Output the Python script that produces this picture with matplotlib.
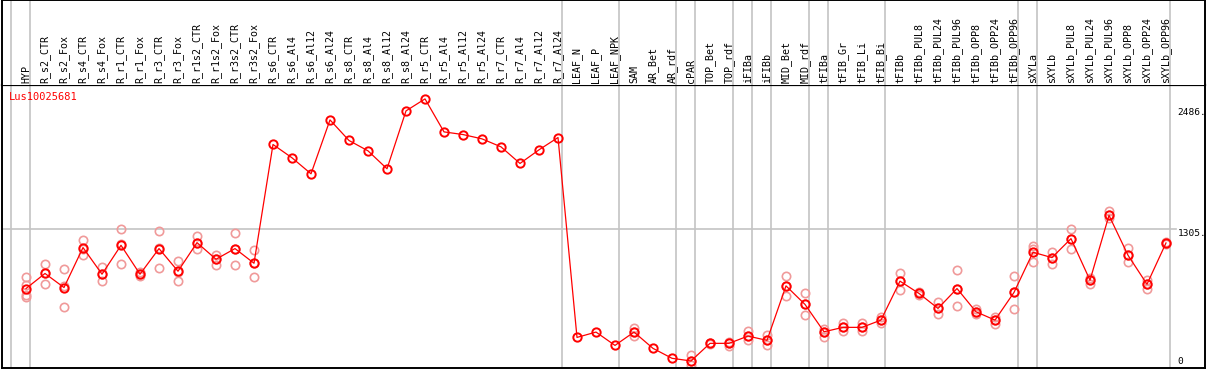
import numpy as np
import matplotlib
matplotlib.use('Agg')
import matplotlib.pyplot as plt

gene = 'Lus10025681'

samples = ['HYP', 'R_s2_CTR', 'R_s2_Fox', 'R_s4_CTR', 'R_s4_Fox', 'R_r1_CTR', 'R_r1_Fox',
	'R_r3_CTR', 'R_r3_Fox', 'R_r1s2_CTR', 'R_r1s2_Fox', 'R_r3s2_CTR', 'R_r3s2_Fox',
	'R_s6_CTR', 'R_s6_Al4', 'R_s6_Al12', 'R_s6_Al24', 'R_s8_CTR', 'R_s8_Al4', 'R_s8_Al12',
	'R_s8_Al24', 'R_r5_CTR', 'R_r5_Al4', 'R_r5_Al12', 'R_r5_Al24', 'R_r7_CTR', 'R_r7_Al4',
	'R_r7_Al12', 'R_r7_Al24', 'LEAF_N', 'LEAF_P', 'LEAF_NPK', 'SAM', 'AR_Bet', 'AR_rdf',
	'cPAR', 'TOP_Bet', 'TOP_rdf', 'iFIBa', 'iFIBb', 'MID_Bet', 'MID_rdf', 'tFIBa', 'tFIB_Gr',
	'tFIB_Li', 'tFIB_Bi', 'tFIBb', 'tFIBb_PUL8', 'tFIBb_PUL24', 'tFIBb_PUL96', 'tFIBb_OPP8',
	'tFIBb_OPP24', 'tFIBb_OPP96', 'sXYLa', 'sXYLb', 'sXYLb_PUL8', 'sXYLb_PUL24',
	'sXYLb_PUL96', 'sXYLb_OPP8', 'sXYLb_OPP24', 'sXYLb_OPP96']

means = [720, 867, 730, 1120, 860, 1142, 860, 1110, 889, 1168, 1006, 1110, 967,
	2126, 1996, 1840, 2366, 2165, 2064, 1889, 2454, 2571, 2249, 2223, 2181, 2103, 1941, 2074, 2194,
	243, 295, 165, 295, 136, 39, 13, 185, 185, 256, 214, 746, 565, 298, 341, 341, 412, 792,
	672, 526, 720, 493, 412, 682, 1074, 1022, 1207, 801, 1434, 1045, 762, 1165]

reps = [[828, 753, 655, 633], [957, 867, 769], [915, 740, 535], [1198, 1110, 1052],
	[928, 862, 789], [1305, 1157, 964], [882, 858, 840], [1285, 1120, 925], [993, 885, 789],
	[1230, 1168, 1106], [1052, 1006, 950], [1266, 1110, 954], [1093, 971, 837],
	[], [], [], [], [], [], [], [], [], [], [], [], [], [], [], [],
	[], [], [], [331, 298, 256], [], [], [68, 13, -30], [192, 185, 178], [200, 185, 160],
	[302, 256, 217], [266, 214, 168], [843, 746, 652], [672, 565, 460], [321, 298, 243],
	[380, 341, 305], [380, 341, 305], [438, 412, 386], [876, 792, 704],
	[690, 672, 655], [590, 526, 470], [899, 720, 548], [516, 493, 470], [438, 412, 370],
	[843, 682, 516], [1132, 1110, 977], [1077, 1022, 964], [1305, 1207, 1110],
	[818, 801, 762], [1476, 1434, 1412], [1116, 1045, 980], [801, 762, 720], [1175, 1165, 1155]]

# group dividers sit just right of these sample indices
dividers = [-1, 0, 28, 31, 34, 35, 37, 38, 39, 41, 42, 45, 52, 53, 60]
ylabels = [2486, 1305, 0]

W, H = 1209, 370
fig = plt.figure(figsize=(W/100, H/100), dpi=100)

xmin = -24/19.0
xmax = xmin + 1203/19.0
px = 1.0/W
py = 1.0/H
scale = 0.10245  # pixels per unit
ymin = (362.3-368)/scale
ymax = (362.3-85)/scale

ax = fig.add_axes([2*px, 2*py, 1203*px, 283*py])
hd = fig.add_axes([2*px, 285*py, 1203*px, 85*py])
for a in (ax, hd):
	a.set_xlim(xmin, xmax)
	a.set_xticks([])
	a.set_yticks([])
	for s in a.spines.values():
		s.set_linewidth(1.4)
		s.set_color('black')
ax.set_ylim(ymin, ymax)
hd.set_ylim(0, 1)
hd.spines['bottom'].set_visible(False)
ax.spines['top'].set_linewidth(1.6)

gray = '#c4c4c4'
for d in dividers:
	ax.axvline(d+0.22, color=gray, lw=1.2, zorder=1)
	hd.axvline(d+0.22, color=gray, lw=1.2, zorder=1)
ax.plot([xmin, 60.55], [1305, 1305], color=gray, lw=1.2, zorder=1)

x = np.arange(len(samples))
for i, r in enumerate(reps):
	if len(r):
		ax.plot([i]*len(r), r, 'o', ms=6, mfc='none', mec='#f09a9a', mew=1.2, zorder=2)
ax.plot(x, means, '-', color='red', lw=0.9, zorder=3)
ax.plot(x, means, 'o', ms=6, mfc='none', mec='red', mew=1.4, zorder=4)

for i, s in enumerate(samples):
	hd.text(i, 0.025, s, rotation=90, ha='center', va='bottom', fontsize=7.2,
		family='DejaVu Sans Mono', color='black')

ax.text(-0.9, (362.3-97)/scale, gene, color='red', fontsize=7.5, family='DejaVu Sans Mono',
	ha='left', va='center')

for v in ylabels:
	va = 'top' if v > 0 else 'center'
	yy = v if v > 0 else 10
	ax.text(60.6, yy, '%d.' % v if v > 0 else '0', fontsize=6.8, family='DejaVu Sans Mono',
		ha='left', va=va, color='black')

fig.savefig('out.png', dpi=100)
